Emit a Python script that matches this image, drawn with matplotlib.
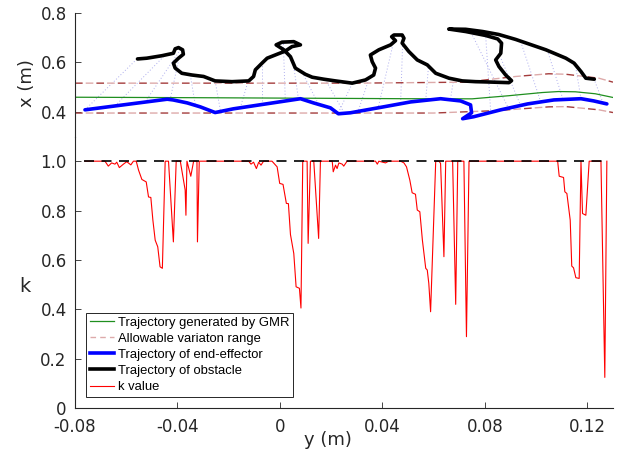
import numpy as np
import matplotlib
matplotlib.use('Agg')
import matplotlib.pyplot as plt
from matplotlib.lines import Line2D

plt.rcParams['axes.unicode_minus'] = False
plt.rcParams['font.family'] = ['DejaVu Sans']

# ---------------- data ----------------
# GMR trajectory (y, x)
gmr_y = [-0.08, -0.03, 0.01, 0.05, 0.075, 0.0892, 0.1024, 0.1087, 0.1153, 0.1231, 0.13]
gmr_x = [0.459, 0.457, 0.455, 0.453, 0.4525, 0.465, 0.478, 0.482, 0.481, 0.473, 0.458]

# allowable variation range
upper_y = [-0.08, 0.03, 0.0725, 0.092, 0.1049, 0.1116, 0.1245, 0.13]
upper_x = [0.516, 0.516, 0.520, 0.543, 0.554, 0.552, 0.536, 0.520]
lower_y = [-0.08, 0.06, 0.085, 0.1049, 0.1116, 0.1245, 0.13]
lower_x = [0.395, 0.395, 0.405, 0.420, 0.421, 0.408, 0.397]

# end-effector trajectory
ee_y = [-0.0761, -0.0440, -0.0417, -0.0362, -0.0311, -0.0253, -0.0182, 0.0080, 0.0131,
        0.0197, 0.0228, 0.0275, 0.0404, 0.0510, 0.0627, 0.0705, 0.0744, 0.0748, 0.0713,
        0.0756, 0.0862, 0.0967, 0.1069, 0.1175, 0.1225, 0.1276]
ee_x = [0.408, 0.451, 0.448, 0.436, 0.420, 0.397, 0.412, 0.453, 0.436,
        0.416, 0.392, 0.396, 0.420, 0.440, 0.453, 0.444, 0.428, 0.396, 0.372,
        0.380, 0.408, 0.432, 0.448, 0.453, 0.444, 0.432]

# obstacle trajectory
obs_y = [-0.0556, -0.0520, -0.0461, -0.0416, -0.0409, -0.0396, -0.0380, -0.0377, -0.0396,
         -0.0416, -0.0409, -0.0383, -0.0344, -0.0298, -0.0253, -0.0187, -0.0122, -0.0103,
         -0.0096, -0.0070, -0.0050, -0.0011, 0.0021, 0.0047, 0.0080, 0.0054, 0.0008,
         -0.0015, 0.0015, 0.0041, 0.0060, 0.0099, 0.0126, 0.0171, 0.0217, 0.0282, 0.0334,
         0.0366, 0.0373, 0.0360, 0.0353, 0.0386, 0.0432, 0.0451, 0.0436, 0.0445, 0.0477,
         0.0484, 0.0477, 0.0503, 0.0536, 0.0575, 0.0608, 0.0660, 0.0712, 0.0764, 0.0803,
         0.0894, 0.0904, 0.0881, 0.0855, 0.0842, 0.0862, 0.0865, 0.0850, 0.0803, 0.0725,
         0.0659, 0.0725, 0.0791, 0.0854, 0.0920, 0.1038, 0.1116, 0.1148, 0.1175, 0.1194,
         0.1227]
obs_x = [0.614, 0.617, 0.627, 0.637, 0.655, 0.660, 0.651, 0.633, 0.617,
         0.597, 0.577, 0.556, 0.549, 0.543, 0.525, 0.522, 0.525, 0.543,
         0.570, 0.597, 0.617, 0.633, 0.646, 0.664, 0.671, 0.684, 0.682,
         0.671, 0.651, 0.623, 0.577, 0.552, 0.540, 0.532, 0.525, 0.516, 0.529,
         0.549, 0.577, 0.603, 0.630, 0.651, 0.671, 0.688, 0.704, 0.711, 0.711,
         0.698, 0.678, 0.644, 0.610, 0.590, 0.556, 0.536, 0.525, 0.522, 0.521,
         0.518, 0.526, 0.549, 0.583, 0.610, 0.637, 0.678, 0.695, 0.709, 0.725,
         0.735, 0.734, 0.725, 0.713, 0.693, 0.651, 0.617, 0.597, 0.563, 0.536,
         0.532]

# dotted links between end-effector and obstacle samples
link_ee_y = [-0.0761, -0.0644, -0.0526, -0.0429, -0.0331, -0.0233, -0.0155, -0.0069, 0.0021,
             0.0072, 0.0150, 0.0244, 0.0228, 0.0307, 0.0385, 0.0471, 0.0569, 0.0666,
             0.0893, 0.0823, 0.0940, 0.1018, 0.1104, 0.1175, 0.1261]
link_ee_x = [0.408, 0.424, 0.440, 0.448, 0.432, 0.408, 0.416, 0.432, 0.444,
             0.453, 0.432, 0.408, 0.396, 0.408, 0.424, 0.436, 0.448, 0.453,
             0.412, 0.396, 0.424, 0.440, 0.453, 0.453, 0.436]
link_obs_y = [-0.0558, -0.0448, -0.0389, -0.0397, -0.0350, -0.0253, -0.0124, -0.0069, 0.0013,
              0.0049, 0.0092, 0.0178, 0.0283, 0.0346, 0.0440, 0.0479, 0.0580, 0.0678,
              0.0745, 0.0803, 0.0862, 0.0940, 0.1046, 0.1155, 0.1226]
link_obs_x = [0.614, 0.630, 0.651, 0.602, 0.549, 0.525, 0.525, 0.598, 0.683,
              0.618, 0.549, 0.529, 0.517, 0.529, 0.667, 0.679, 0.586, 0.533,
              0.723, 0.707, 0.618, 0.683, 0.642, 0.578, 0.533]

# k value
k_y = [-0.0761, -0.0683, -0.0670, -0.0657, -0.0644, -0.0637, -0.0627, -0.0611, -0.0598, -0.0582,
       -0.0572, -0.0561, -0.0552, -0.0539, -0.0522, -0.0513, -0.0504, -0.0496, -0.0487, -0.0477,
       -0.0468, -0.0459, -0.0448, -0.0435, -0.0416, -0.0405, -0.0389, -0.0370, -0.0367, -0.0363,
       -0.0348, -0.0337, -0.0324, -0.0322, -0.0315, -0.0122, -0.0113, -0.0103, -0.0092, -0.0083,
       -0.0074, -0.0064, -0.0031, -0.0011, -0.0001, 0.0012, 0.0025, 0.0033, 0.0041, 0.0054,
       0.0063, 0.0076, 0.0082, 0.0089, 0.0106, 0.0110, 0.0119, 0.0132, 0.0151, 0.0158,
       0.0204, 0.0208, 0.0217, 0.0223, 0.0230, 0.0243, 0.0249, 0.0262, 0.0373, 0.0380,
       0.0386, 0.0412, 0.0424, 0.0471, 0.0484, 0.0494, 0.0507, 0.0516, 0.0529, 0.0536,
       0.0546, 0.0556, 0.0569, 0.0575, 0.0581, 0.0588, 0.0608, 0.0621, 0.0627, 0.0640,
       0.0647, 0.0674, 0.0686, 0.0694, 0.0718, 0.0728, 0.0738, 0.1084, 0.1090, 0.1107,
       0.1112, 0.1120, 0.1133, 0.1139, 0.1146, 0.1155, 0.1168, 0.1175, 0.1181, 0.1194,
       0.1207, 0.1253, 0.1268, 0.1276]
k_val = [1.0, 1.0, 0.980, 0.993, 0.988, 0.996, 0.974, 0.988, 0.998, 0.985,
         1.0, 1.0, 0.964, 0.926, 0.916, 0.855, 0.853, 0.761, 0.680, 0.653,
         0.572, 0.566, 1.0, 1.0, 0.673, 1.0, 1.0, 0.883, 0.781, 1.0,
         0.939, 1.0, 1.0, 0.673, 1.0, 1.0, 0.988, 0.996, 0.970, 0.996,
         0.984, 1.0, 1.0, 0.977, 0.910, 0.906, 0.829, 0.828, 0.703, 0.626,
         0.491, 0.485, 0.405, 1.0, 1.0, 0.667, 1.0, 1.0, 0.687, 1.0,
         1.0, 0.957, 0.984, 0.970, 0.993, 0.988, 0.980, 1.0, 1.0, 0.988,
         1.0, 0.993, 1.0, 1.0, 0.993, 0.977, 0.923, 0.872, 0.866, 0.802,
         0.795, 0.680, 0.566, 0.559, 0.505, 0.390, 1.0, 1.0, 0.991, 0.613,
         1.0, 1.0, 0.420, 1.0, 1.0, 0.289, 1.0, 1.0, 0.939, 0.934,
         0.876, 0.869, 0.761, 0.575, 0.568, 0.528, 0.525, 1.0, 0.788, 0.781,
         1.0, 1.0, 0.124, 1.0]

kref_y = [-0.0765, 0.1278]
kref_val = [1.0, 1.0]

x_ticks = [-0.08, -0.04, 0, 0.04, 0.08, 0.12]
x_tick_labels = ['-0.08', '-0.04', '0', '0.04', '0.08', '0.12']
k_ticks = [0, 0.2, 0.4, 0.6, 0.8, 1.0]
k_tick_labels = ['0', '0.2', '0.4', '0.6', '0.8', '1.0']
x_pos_ticks = [0.4, 0.6, 0.8]
x_pos_tick_labels = ['0.4', '0.6', '0.8']

legend_labels = ['Trajectory generated by GMR', 'Allowable variaton range',
                 'Trajectory of end-effector', 'Trajectory of obstacle', 'k value']

# ---------------- figure ----------------
W, H = 621, 453
fig = plt.figure(figsize=(W / 100, H / 100), dpi=100)
left = 75 / W
width = 538 / W
ax_k = fig.add_axes([left, 45 / H, width, 271.5 / H])
ax_x = fig.add_axes([left, 316.5 / H, width, 123.5 / H])

axcol = '#262626'
for ax in (ax_k, ax_x):
    ax.set_xlim(-0.08, 0.13)
    for s in ('top', 'right'):
        ax.spines[s].set_visible(False)
    for s in ('left', 'bottom'):
        ax.spines[s].set_color(axcol)
        ax.spines[s].set_linewidth(0.8)
    ax.tick_params(direction='in', length=4, width=0.6, colors=axcol, labelsize=12, pad=6)
    ax.patch.set_alpha(0)

ax_x.spines['bottom'].set_visible(False)
ax_x.set_xticks([])
ax_x.set_ylim(0.3, 0.8)
ax_x.set_yticks(x_pos_ticks)
ax_x.set_yticklabels(x_pos_tick_labels)

ax_k.set_ylim(0, 1.1)
ax_k.set_yticks(k_ticks)
ax_k.set_yticklabels(k_tick_labels)
ax_k.set_xticks(x_ticks)
ax_k.set_xticklabels(x_tick_labels)
ax_k.tick_params(axis='x', pad=7)

# top panel
link_col = '#8a8ae6'
ax_x.plot(np.vstack([link_ee_y, link_obs_y]), np.vstack([link_ee_x, link_obs_x]),
          linestyle=(0, (1, 2.2)), color=link_col, lw=0.7, alpha=0.7)
dark_red = '#a43c3c'
pink = '#ddaaaa'
for yy, xx in ((upper_y, upper_x), (lower_y, lower_x)):
    ax_x.plot(yy, xx, color=pink, lw=1.0, linestyle=(7.7, (5.5, 9.9)))
    ax_x.plot(yy, xx, color=dark_red, lw=1.0, linestyle=(0, (5.5, 9.9)))
green = '#1f8f1f'
ax_x.plot(gmr_y, gmr_x, color=green, lw=0.9)
ax_x.plot(ee_y, ee_x, color='#0000ff', lw=2.6, solid_joinstyle='round', solid_capstyle='round')
ax_x.plot(obs_y, obs_x, color='black', lw=2.6, solid_joinstyle='round', solid_capstyle='round')

# bottom panel
ax_k.plot(k_y, k_val, color='#ff0000', lw=0.8)
ax_k.plot(kref_y, kref_val, color='black', lw=1.2, linestyle=(0, (6, 4.5)))

# labels
fig.text(27 / W, 1 - 83 / H, 'x (m)', rotation=90, ha='center', va='center', fontsize=13, color=axcol)
fig.text(25 / W, 1 - 286 / H, 'k', ha='center', va='center', fontsize=14, color=axcol)
fig.text(328 / W, 1 - 440 / H, 'y (m)', ha='center', va='center', fontsize=13, color=axcol)

# legend
handles = [Line2D([], [], color=green, lw=0.9),
           Line2D([], [], color=pink, lw=1.0, linestyle=(0, (4, 3))),
           Line2D([], [], color='#0000ff', lw=2.6),
           Line2D([], [], color='black', lw=2.6),
           Line2D([], [], color='#ff0000', lw=0.8)]
leg = fig.legend(handles, legend_labels, loc='lower left',
                 bbox_to_anchor=(86 / W, 1 - 397 / H), bbox_transform=fig.transFigure,
                 prop={'family': 'Liberation Sans', 'size': 9.4},
                 frameon=True, fancybox=False, framealpha=1, edgecolor=axcol,
                 handlelength=1.85, handletextpad=0.3, borderpad=0.3,
                 labelspacing=0.3, borderaxespad=0)
leg.get_frame().set_linewidth(0.7)

fig.savefig('out.png', dpi=100)
